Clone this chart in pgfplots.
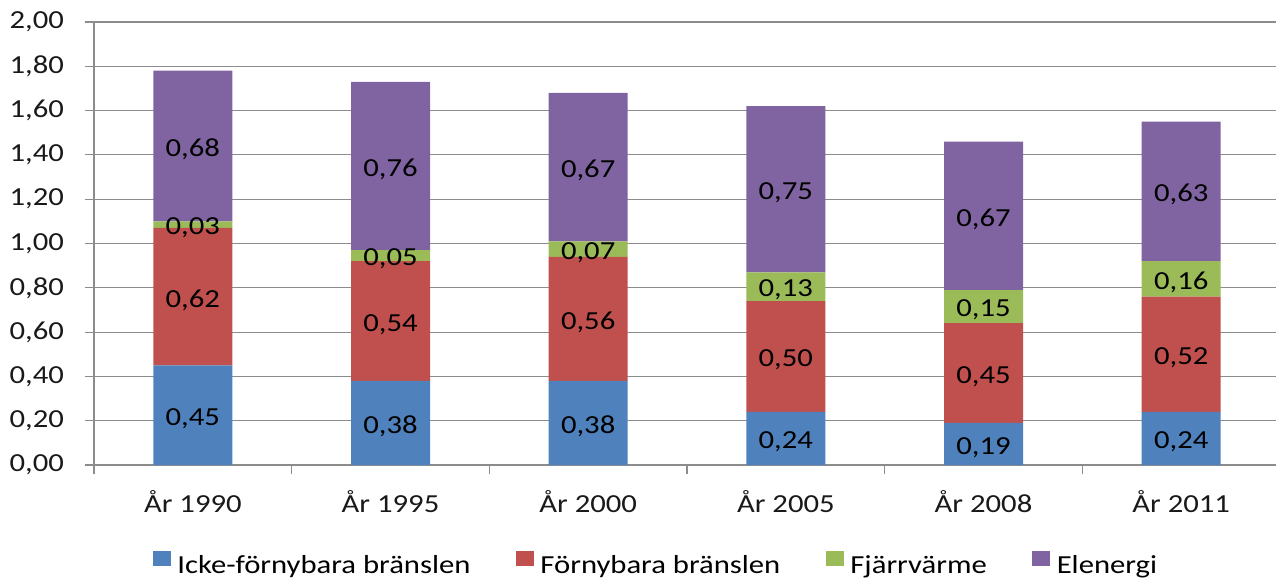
\documentclass[border=0pt]{standalone}
\usepackage{fontspec}
\setmainfont{Carlito}[FakeStretch=1.18]
\usepackage{pgfplots}
\pgfplotsset{compat=1.18}
\usepackage{pgfplotstable}
\definecolor{cBlue}{HTML}{4F81BD}
\definecolor{cRed}{HTML}{C0504D}
\definecolor{cGreen}{HTML}{9BBB59}
\definecolor{cPurple}{HTML}{8064A2}
\definecolor{gridgray}{HTML}{8C8C8C}
\pgfplotstableread{
x a b c d
0 0.45 0.62 0.03 0.68
1 0.38 0.54 0.05 0.76
2 0.38 0.56 0.07 0.67
3 0.24 0.50 0.13 0.75
4 0.19 0.45 0.15 0.67
5 0.24 0.52 0.16 0.63
}\data
\newcommand{\chartfont}{\fontsize{19.5}{23}\selectfont}
\begin{document}
\begin{tikzpicture}
\begin{axis}[
  at={(0pt,0pt)}, anchor=south west,
  scale only axis, width=889.5pt, height=332.25pt,
  ybar stacked, bar width=59.25pt,
  xmin=-0.5, xmax=5.5, ymin=0, ymax=2,
  xtick={-0.5,0.5,...,5.5},
  xticklabels={År 1990,År 1995,År 2000,År 2005,År 2008,År 2011},
  x tick label as interval,
  ytick={0,0.2,...,2.01},
  axis x line*=bottom, axis y line*=left,
  axis line style={draw=gridgray, line width=0.8pt},
  tick align=outside,
  major tick length=7pt,
  tick style={draw=gridgray, line width=0.8pt},
  ymajorgrids, xmajorgrids=false,
  grid style={draw=gridgray, line width=0.8pt},
  /pgf/number format/assume math mode=true,
  ticklabel style={font=\chartfont, text=black!90},
  yticklabel style={xshift=-12pt, /pgf/number format/fixed, /pgf/number format/fixed zerofill, /pgf/number format/precision=2, /pgf/number format/use comma},
  xticklabel style={yshift=-8.5pt},
  point meta=explicit,
  nodes near coords={\pgfmathprintnumber[fixed,fixed zerofill,precision=2,use comma]{\pgfplotspointmeta}},
  every node near coord/.append style={anchor=center, text=black, font=\chartfont, yshift=-2.5pt},
  legend columns=4,
  legend cell align=left,
  legend style={at={(rel axis cs:0.473,-0.2212)}, anchor=center, draw=none, fill=none,
    font=\chartfont, inner sep=0pt,
    nodes={inner sep=0pt},
    /tikz/every odd column/.append style={column sep=5pt},
    /tikz/every even column/.append style={column sep=34pt}},
  legend image code/.code={\fill[#1] (0pt,-0.5pt) rectangle (13.5pt,10.75pt);},
]
\addplot[fill=cBlue, draw=none] table[x=x,y=a,meta=a]{\data};
\addplot[fill=cRed, draw=none] table[x=x,y=b,meta=b]{\data};
\addplot[fill=cGreen, draw=none] table[x=x,y=c,meta=c]{\data};
\addplot[fill=cPurple, draw=none] table[x=x,y=d,meta=d]{\data};
\legend{Icke-förnybara bränslen, Förnybara bränslen, Fjärrvärme, Elenergi}
\end{axis}
\pgfresetboundingbox
\path[use as bounding box] (-70.5pt,-85.5pt) rectangle (886.5pt,348.75pt);
\end{tikzpicture}
\end{document}
